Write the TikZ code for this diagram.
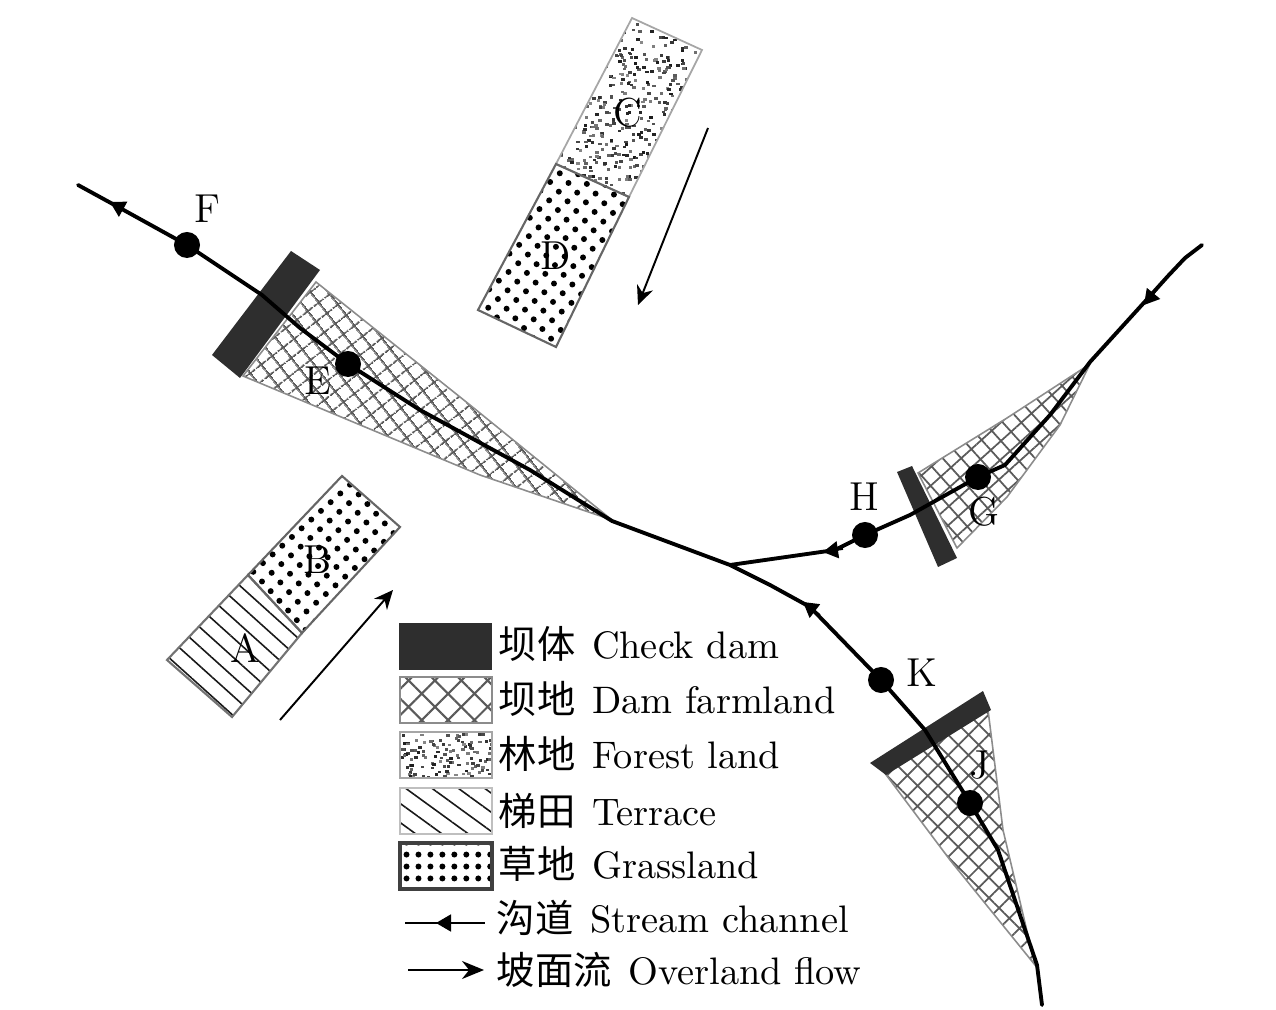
\documentclass[tikz,border=0pt]{standalone}
\usepackage{fontspec}
\newfontfamily\cjk{Noto Sans CJK SC}
\usepackage{xcolor}
\usetikzlibrary{arrows.meta, patterns.meta, calc}
\definecolor{damdark}{HTML}{2E2E2E}
\definecolor{hatchgrey}{HTML}{5A5A5A}

% random specks for the forest land, clipped to a path: #1 path, #2 x, #3 y, #4 w, #5 h, #6 number
\newcommand{\forestspecks}[6]{
  \begin{scope}
    \clip #1;
    \foreach \k in {1,...,#6} {
      \pgfmathsetmacro{\sx}{#2+rnd*#4}
      \pgfmathsetmacro{\sy}{#3+rnd*#5}
      \pgfmathsetmacro{\sg}{45+rnd*45}
      \fill[black!\sg] (\sx,\sy) rectangle ++(3.4,2.8);
    }
  \end{scope}
}
\newcommand{\zh}[1]{{\cjk #1}\kern1.1pt\ }

\begin{document}
\begin{tikzpicture}[
    x=0.01cm, y=-0.01cm,
    farmland/.style={pattern={Hatch[angle=40,distance=4.2pt,line width=.5pt]}, pattern color=hatchgrey,
                     draw=black!45, line width=.45pt},
    grass/.style={pattern={Dots[radius=.85pt,distance=3.7pt,angle=42]}, pattern color=black,
                  draw=black!60, line width=.6pt},
    terrace/.style={pattern={Lines[angle=-42,distance=4.1pt,line width=.45pt]}, pattern color=black!90,
                    draw=black!55, line width=.6pt},
    forest/.style={draw=black!35, line width=.5pt},
    dam/.style={fill=damdark},
    swatch/.style={minimum width=0.92cm, minimum height=0.46cm, inner sep=0pt, outer sep=0pt},
    legtext/.style={anchor=base west, inner sep=0pt, font=\fontsize{10.9}{13}\selectfont},
    lab/.style={inner sep=0pt, font=\fontsize{11.5}{13}\selectfont},
    pt/.style={circle, fill=black, inner sep=0pt, minimum size=0.26cm},
    stream/.style={draw=black, line width=1.1pt, line join=round, line cap=round},
    tipflow/.style={-{Triangle[length=1.5mm,width=1.7mm]}, line width=.5pt},
    overland/.style={-{Stealth[length=1.9mm,width=1.7mm]}, line width=.55pt}
  ]
    \useasboundingbox (0,0) rectangle (1276,1010);
    \pgfmathsetseed{4711}

    % fans behind the dams
    \path[farmland, pattern={Hatch[angle=38,distance=4pt,line width=.5pt]}]
      (316,282) -- (470,405) -- (612,520) -- (480,475) -- (243,376) -- cycle;
    \path[farmland, pattern={Hatch[angle=42,distance=3.9pt,line width=.5pt]}]
      (918,473) -- (1007,418) -- (1090,364) -- (1060,425) -- (1007,497) -- (957,548) -- cycle;
    \path[farmland, pattern={Hatch[angle=45,distance=4.1pt,line width=.5pt]}]
      (884,772) -- (950,860) -- (1035,965) -- (1003,830) -- (988,710) -- cycle;

    % slope plots
    \forestspecks{(632,18) -- (702,50) -- (629,197) -- (556,164) -- cycle}{550}{15}{155}{185}{620}
    \path[forest] (632,18) -- (702,50) -- (629,197) -- (556,164) -- cycle;
    \path[grass] (556,164) -- (629,197) -- (556,347) -- (478,310) -- cycle;
    \path[terrace] (248,575) -- (302,633) -- (232,717) -- (167,660) -- cycle;
    \path[grass] (342,476) -- (400,527) -- (302,633) -- (248,575) -- cycle;

    % check dams
    \fill[dam] (291,251) -- (320,270) -- (240,378) -- (212,355) -- cycle;
    \fill[dam] (897,472) -- (912,466) -- (957,558) -- (938,567) -- cycle;
    \fill[dam] (870,763) -- (983,691) -- (991,710) -- (886,775) -- cycle;

    % stream points
    \node[pt] (ptF) at (187,245) {};
    \node[pt] (ptE) at (348,364) {};
    \node[pt] (ptH) at (865,535) {};
    \node[pt] (ptG) at (978,477) {};
    \node[pt] (ptK) at (881,680) {};
    \node[pt] (ptJ) at (970,803) {};

    \coordinate (mouth) at (78,185);
    \coordinate (fork) at (730,565);
    \coordinate (bend) at (612,521);
    \coordinate (headJ) at (1042,1005);
    \coordinate (headG) at (1202,245);

    \draw[stream] (mouth) -- (120,208) -- (ptF.center) -- (262,295) -- (300,328) -- (ptE.center)
      -- (420,410) -- (530,470) -- (bend) -- (fork) -- (770,585) -- (810,607) -- (ptK.center)
      -- (925,730) -- (ptJ.center) -- (998,850) -- (1020,915) -- (1037,965) -- (headJ);
    \draw[stream] (fork) -- (835,550) -- (ptH.center) -- (910,515) -- (ptG.center)
      -- (1005,465) -- (1050,415) -- (1090,362) -- (1150,296) -- (1168,276) -- (1185,258) -- (headG);

    % flow tips on the channel
    \coordinate (tipFa) at (128,212);
    \coordinate (tipFb) at (110,202);
    \coordinate (tipHa) at (843,549);
    \coordinate (tipHb) at (823,552);
    \coordinate (tipKa) at (820,615);
    \coordinate (tipKb) at (803,602);
    \coordinate (tipGa) at (1158,288);
    \coordinate (tipGb) at (1144,305);
    \draw[tipflow] (tipFa) -- (tipFb);
    \draw[tipflow] (tipHa) -- (tipHb);
    \draw[tipflow] (tipKa) -- (tipKb);
    \draw[tipflow] (tipGa) -- (tipGb);

    % overland flow
    \coordinate (ovCa) at (708,128);
    \coordinate (ovCb) at (638,305);
    \coordinate (ovAa) at (280,720);
    \coordinate (ovAb) at (393,590);
    \draw[overland] (ovCa) -- (ovCb);
    \draw[overland] (ovAa) -- (ovAb);

    % letters
    \node[lab] (labA) at (245,648) {A};
    \node[lab] (labB) at (318,560) {B};
    \node[lab] (labC) at (628,113) {C};
    \node[lab] (labD) at (556,256) {D};
    \node[lab] (labE) at (318,381) {E};
    \node[lab] (labF) at (207,209) {F};
    \node[lab] (labG) at (984,512) {G};
    \node[lab] (labH) at (864,497) {H};
    \node[lab] (labJ) at (980,765) {J};
    \node[lab] (labK) at (922,673) {K};

    % legend
    \node[swatch, fill=damdark] (keyDam) at (445.5,646.5) {};
    \node[swatch, farmland, pattern={Hatch[angle=45,distance=5.3pt,line width=.6pt]}] (keyFarm) at (446,700) {};
    \node[swatch] (keyForest) at (446,755) {};
    \forestspecks{(400,732) rectangle (492,778)}{400}{732}{92}{46}{130}
    \node[swatch, forest] at (keyForest) {};
    \node[swatch, terrace, draw=black!25, pattern={Lines[angle=-36,distance=4.4pt,line width=.45pt]}] (keyTerrace) at (446,811) {};
    \node[swatch, draw=black!75, line width=.9pt,
          pattern={Dots[radius=.85pt,distance=3.4pt]}, pattern color=black] (keyGrass) at (446,866) {};

    \node[legtext] at (498,658) {\zh{坝体}Check dam};
    \node[legtext] at (498,713) {\zh{坝地}Dam farmland};
    \node[legtext] at (498,768) {\zh{林地}Forest land};
    \node[legtext] at (498,825) {\zh{梯田}Terrace};
    \node[legtext] at (498,878) {\zh{草地}Grassland};
    \node[legtext] at (496,932) {\zh{沟道}Stream channel};
    \node[legtext] at (496,984) {\zh{坡面流}Overland flow};

    \coordinate (keySa) at (405,923);
    \coordinate (keySb) at (485,923);
    \coordinate (keySm) at (452,923);
    \coordinate (keySn) at (436,923);
    \coordinate (keyOa) at (408,970);
    \coordinate (keyOb) at (484,970);
    \draw[line width=.55pt] (keySa) -- (keySb);
    \draw[tipflow] (keySm) -- (keySn);
    \draw[line width=.55pt, -{Stealth[length=2.2mm,width=1.8mm]}] (keyOa) -- (keyOb);
\end{tikzpicture}
\end{document}
